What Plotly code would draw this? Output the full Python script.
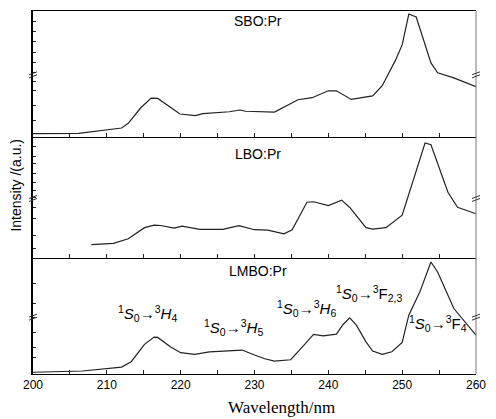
import plotly.graph_objects as go

# ---- data ----
sbo_x = [200, 206.2, 212, 212.9, 214.6, 216, 216.9, 218.6, 219.9, 222, 223, 226.6, 228, 228.8,
         232.7, 235.9, 237.8, 240, 241.1, 243.1, 246, 247.3, 249.1, 250, 250.9, 251.9, 253.9,
         254.8, 257, 260]
sbo_y = [2.4, 2.6, 6.9, 10.6, 23, 30.7, 30.4, 23, 18, 16.7, 18.3, 19.8, 21.2, 20.2,
         19.6, 29.4, 31, 36.5, 36.5, 29.6, 32.5, 40.5, 60.9, 73, 97.6, 95.2, 58.7,
         50.8, 46.8, 39.7]

lbo_x = [207.9, 210.9, 212.9, 215.1, 216.4, 217.3, 219.1, 220.2, 222.6, 225.7, 227.9, 230,
         231.8, 234, 235.1, 237.1, 238, 240, 241.8, 242.9, 245.1, 246, 247.8, 250, 253.1,
         253.9, 256.2, 257.5, 260]
lbo_y = [11.2, 12.3, 16.1, 25.2, 27.3, 27, 24.8, 26.5, 23.8, 23.8, 26.8, 23.5,
         23.2, 20.2, 23.5, 46.1, 46.5, 43.4, 47.8, 41.8, 25.2, 24, 25.2, 35.5, 94.8,
         93.4, 54.3, 42, 36.6]

lmbo_x = [200, 206.7, 212, 213.3, 215.1, 216.4, 216.9, 218.6, 220, 221.9, 223.9, 227.9, 228.3,
          230, 231.4, 232.7, 234.9, 236.7, 238, 239.3, 241.1, 242, 242.9, 243.8, 245.1, 246,
          247.3, 248.6, 250, 250.9, 252.4, 253.9, 254.8, 257, 260]
lmbo_y = [1.5, 2.6, 6, 10.6, 25.6, 31.9, 31.6, 23.5, 18.4, 17, 19.2, 20.9, 20.7,
          16.4, 13.2, 11.2, 12.3, 25, 34.2, 33, 34.5, 42.8, 48.5, 42.2, 27.8, 19.8,
          17, 19.2, 27.3, 50.9, 71, 96.8, 88.2, 56.6, 33.6]

panel_labels = ["SBO:Pr", "LBO:Pr", "LMBO:Pr"]
x_ticks = [200, 210, 220, 230, 240, 250, 260]
trans_labels = [
    "<sup>1</sup><i>S</i><sub>0</sub>→<sup>3</sup><i>H</i><sub>4</sub>",
    "<sup>1</sup><i>S</i><sub>0</sub>→<sup>3</sup><i>H</i><sub>5</sub>",
    "<sup>1</sup><i>S</i><sub>0</sub>→<sup>3</sup><i>H</i><sub>6</sub>",
    "<sup>1</sup><i>S</i><sub>0</sub>→<sup>3</sup>F<sub>2,3</sub>",
    "<sup>1</sup><i>S</i><sub>0</sub>→<sup>3</sup>F<sub>4</sub>",
]
trans_pos = [(215.5, 52.6), (227.2, 40.5), (237.1, 56.9), (245.5, 69.8), (254.8, 44)]

# y tick positions (inside ticks on left axis) per panel
yt1 = [92, 84, 76, 67, 59, 51, 44, 36.5, 24.6, 12.7]
yt2 = [92, 84, 78, 70, 62, 56, 50, 42, 33, 19, 8]
yt3 = [78, 61, 49, 36, 23, 14]

FONT = "Liberation Sans, Arial, sans-serif"
LC = "#222222"

fig = go.Figure()
series = [(sbo_x, sbo_y, "x", "y"), (lbo_x, lbo_y, "x2", "y2"), (lmbo_x, lmbo_y, "x3", "y3")]
for xs, ys, xa, ya in series:
    fig.add_trace(go.Scatter(x=xs, y=ys, mode="lines", xaxis=xa, yaxis=ya,
                             line=dict(color=LC, width=1.2), showlegend=False,
                             hoverinfo="skip"))

H = 364.0
d1 = [(374 - 136) / H, 1.0]
d2 = [(374 - 258) / H, (374 - 136) / H]
d3 = [0.0, (374 - 258) / H]

def xax(show_labels, anchor, mirror):
    return dict(range=[200, 260], domain=[0, 1], anchor=anchor,
                tickmode="array", tickvals=x_ticks, ticks="inside", ticklen=4,
                tickcolor=LC, tickwidth=1,
                minor=dict(tickmode="array", tickvals=[205, 215, 225, 235, 245, 255],
                           ticks="inside", ticklen=4, tickcolor=LC),
                showticklabels=show_labels, showline=True, linecolor="black",
                linewidth=1, mirror=mirror, showgrid=False, zeroline=False,
                tickfont=dict(family=FONT, size=12, color="black"))

def yax(domain, tv, anchor):
    return dict(range=[0, 100], domain=domain, anchor=anchor, tickmode="array",
                tickvals=tv, ticks="inside", ticklen=3, tickcolor=LC, tickwidth=1,
                showticklabels=False, showline=True, linecolor="black", linewidth=2,
                mirror=False, showgrid=False, zeroline=False)

fig.update_layout(
    width=496, height=419,
    margin=dict(l=33, r=11, t=10, b=45),
    paper_bgcolor="white", plot_bgcolor="white",
    xaxis=xax(False, "y", "allticks"), yaxis=yax(d1, yt1, "x"),
    xaxis2=xax(False, "y2", False), yaxis2=yax(d2, yt2, "x2"),
    xaxis3=xax(True, "y3", False), yaxis3=yax(d3, yt3, "x3"),
)
fig.layout.xaxis.mirror = True
fig.layout.xaxis.matches = "x3"
fig.layout.xaxis2.matches = "x3"

# right border (thin gray)
fig.add_shape(type="line", xref="paper", yref="paper", x0=1, x1=1, y0=0, y1=1,
              line=dict(color="#777777", width=1))

# panel labels
label_y = [(92, "y"), (86, "y2"), (88.8, "y3")]
for (yy, ya), txt, xa in zip(label_y, panel_labels, ["x", "x2", "x3"]):
    fig.add_annotation(x=230.5, y=yy, xref=xa, yref=ya, text=txt, showarrow=False,
                       font=dict(family=FONT, size=14, color="black"))

# transition labels
for txt, (xx, yy) in zip(trans_labels, trans_pos):
    fig.add_annotation(x=xx, y=yy, xref="x3", yref="y3", text=txt, showarrow=False,
                       font=dict(family=FONT, size=15, color="black"))

# axis break marks on left and right of each panel
for ya in ["y", "y2", "y3"]:
    for xp in [0, 1]:
        for off in [0, -3]:
            fig.add_shape(type="line", xref="paper", yref=ya + " domain",
                          xsizemode="pixel", xanchor=xp,
                          ysizemode="pixel", yanchor=0.5,
                          x0=-4, x1=4, y0=off - 1, y1=off + 2,
                          line=dict(color="#333333", width=1))

# axis titles
fig.add_annotation(x=-0.015, y=0.52, xref="paper", yref="paper", xanchor="right",
                   yanchor="middle",
                   text="Intensity /(a.u.)", textangle=-90, showarrow=False,
                   font=dict(family=FONT, size=14, color="black"))
fig.add_annotation(x=0.56, y=-0.091, xref="paper", yref="paper", yanchor="middle",
                   text="Wavelength/nm", showarrow=False,
                   font=dict(family="Liberation Serif, Times New Roman, serif", size=17,
                             color="black"))

fig.write_html("out.html")
